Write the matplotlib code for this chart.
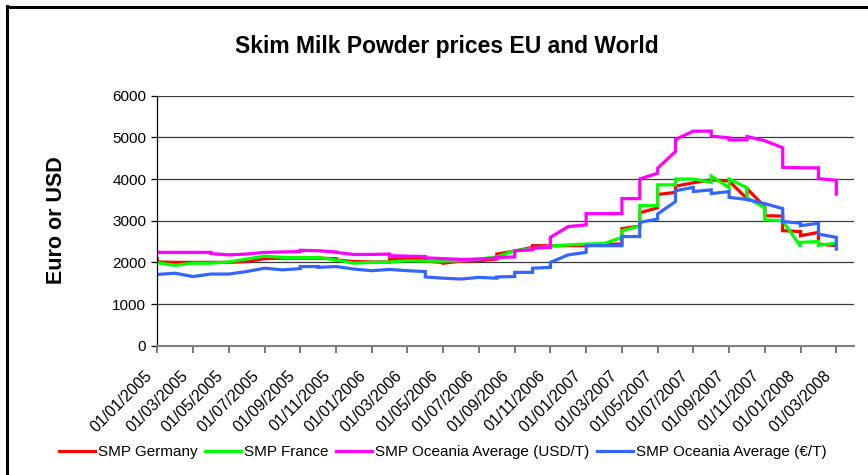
import numpy as np
import pandas as pd
import matplotlib
matplotlib.use("Agg")
import matplotlib.pyplot as plt
from matplotlib.lines import Line2D
from matplotlib.transforms import ScaledTranslation

plt.rcParams["font.family"] = ["Liberation Sans", "DejaVu Sans"]

# Monthly category axis: every reading taken in a month sits on that month's slot
months = pd.period_range("2005-01", "2008-03", freq="M")
tick_months = months[::2]
tick_labels = [m.strftime("01/%m/%Y") for m in tick_months]

# Successive price readings within each month (EUR/t or USD/t)
smp_germany = [
    [2120, 2010], [2000], [2000], [2000], [2000], [2020], [2090], [2100],
    [2100], [2100], [2090, 2060], [2020], [2010], [2010, 2080], [2080],
    [2070, 2030], [2000, 1980], [2030], [2040], [2080, 2200], [2270],
    [2360, 2400], [2400], [2400], [2400], [2430], [2440, 2810], [2870, 3190],
    [3310, 3630], [3680, 3830], [3910], [3980], [3950], [3530, 3770],
    [3330, 3120], [3110, 2760], [2740, 2640], [2720, 2440], [2400],
]
smp_france = [
    [1990], [1930], [1980], [1980], [2010], [2080], [2150], [2120],
    [2110], [2120], [2060], [1980], [2000], [2010], [2040],
    [2030], [2030], [2040], [2080], [2130], [2280],
    [2330], [2390], [2420], [2440], [2450], [2600, 2760], [2870, 3360],
    [3360, 3860], [3860, 4000], [4000], [3920, 4070], [3790, 4000], [3790, 3550],
    [3310, 3020], [3000], [2380, 2480], [2500, 2410], [2460],
]
smp_oceania_usd = [
    [2240], [2240], [2240], [2240, 2210], [2180], [2200], [2240], [2250],
    [2260, 2290], [2280], [2250, 2240], [2190], [2190], [2200, 2160], [2150],
    [2140, 2110], [2090], [2070], [2080], [2100, 2120], [2130, 2280],
    [2300, 2340], [2360, 2600], [2860], [2900, 3170], [3170], [3170, 3530],
    [3530, 4000], [4140, 4260], [4660, 4950], [5150], [5150, 5030],
    [4990, 4940], [4940, 5020], [4920], [4750, 4280], [4270], [4270, 4010],
    [3970, 3600],
]
smp_oceania_eur = [
    [1710], [1740], [1660], [1720], [1720], [1780], [1860], [1820],
    [1850, 1900], [1900, 1880], [1900], [1840], [1800], [1830], [1800],
    [1780, 1650], [1620], [1600], [1640], [1620, 1650], [1660, 1760],
    [1760, 1860], [1880, 2000], [2180], [2240, 2400], [2400], [2400, 2620],
    [2620, 2960], [3040, 3160], [3460, 3720], [3800, 3700], [3740, 3650],
    [3700, 3560], [3510], [3410], [3290, 2980], [2940, 2880], [2940, 2680],
    [2600, 2280],
]

series_names = [
    "SMP Germany",
    "SMP France",
    "SMP Oceania Average (USD/T)",
    "SMP Oceania Average (\u20ac/T)",
]
series_data = [smp_germany, smp_france, smp_oceania_usd, smp_oceania_eur]
series_colors = ["#FF0000", "#00FF00", "#FF00FF", "#3366FF"]

W, H = 868, 475
fig = plt.figure(figsize=(W / 100, H / 100), dpi=100)
ax = fig.add_axes([157.3 / W, 1 - 345.7 / H, (854.2 - 157.3) / W, (345.7 - 95.7) / H])

month_pos = np.arange(len(months))
for name, data, color in zip(series_names, series_data, series_colors):
    xs = np.repeat(month_pos, [len(v) for v in data])
    ys = np.concatenate(data)
    ax.plot(xs, ys, color=color, lw=2.3, solid_joinstyle="miter",
            solid_capstyle="butt", label=name)

ax.set_xlim(0, len(months))
ax.set_ylim(0, 6000)
ax.set_yticks(np.arange(0, 6001, 1000))

ax.grid(axis="y", color="#3a3a3a", lw=0.9)
ax.set_axisbelow(True)
for side in ("top", "right"):
    ax.spines[side].set_visible(False)
ax.spines["left"].set_color("#000000")
ax.spines["left"].set_linewidth(0.9)
ax.spines["bottom"].set_color("#808080")
ax.spines["bottom"].set_linewidth(1.5)
ax.tick_params(axis="y", length=4, width=0.9, color="#000000",
               labelsize=11, pad=4)
ax.tick_params(axis="x", length=5, width=1.2, color="#606060", pad=11)

ax.set_xticks([months.get_loc(m) for m in tick_months])
ax.set_xticklabels(tick_labels, rotation=45, ha="right", va="top",
                   rotation_mode="anchor", fontsize=11.5)
offset = ScaledTranslation(-13 / 100, 0, fig.dpi_scale_trans)
for lab in ax.get_xticklabels():
    lab.set_transform(lab.get_transform() + offset)

fig.text(447 / W, 1 - 46 / H, "Skim Milk Powder prices EU and World",
         ha="center", va="center", fontsize=16.5, fontweight="bold")
fig.text(56 / W, 1 - 220 / H, "Euro or USD", ha="center", va="center",
         rotation=90, fontsize=15.5, fontweight="bold")

handles = [Line2D([], [], color=c, lw=2.3) for c in series_colors]
fig.legend(handles, series_names, loc="center", ncol=4,
           bbox_to_anchor=(443 / W, 1 - 452 / H), frameon=False,
           fontsize=11, handlelength=2.35, handletextpad=0.2,
           columnspacing=0.5)

# chart frame (top and left edges)
fig.add_artist(Line2D([7 / W, 7 / W], [0, 1 - 6 / H], color="black", lw=2.2,
                      transform=fig.transFigure))
fig.add_artist(Line2D([7 / W, 1], [1 - 7 / H, 1 - 7 / H], color="black",
                      lw=2.2, transform=fig.transFigure))

fig.savefig("out.png", dpi=100)
